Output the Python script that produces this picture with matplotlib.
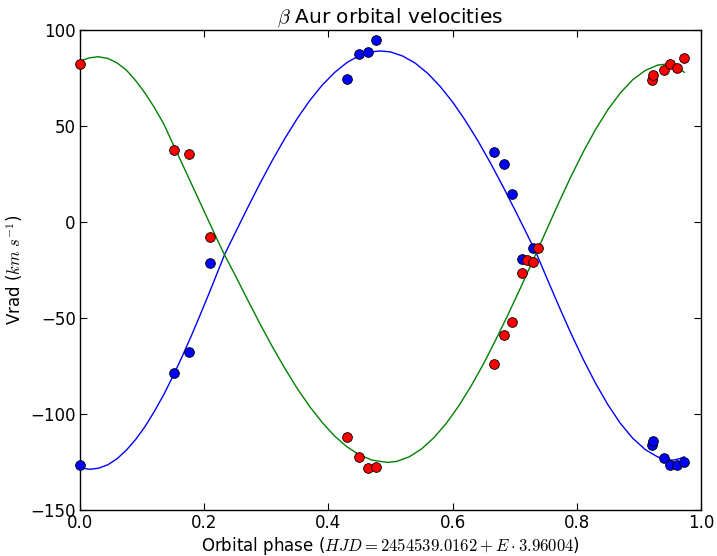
import matplotlib
matplotlib.use("Agg")
import matplotlib.pyplot as plt

# Observed radial velocities
phase_blue = [0.0, 0.152, 0.175, 0.210, 0.430, 0.449, 0.464, 0.476, 0.666, 0.683,
              0.696, 0.711, 0.729, 0.921, 0.923, 0.940, 0.950, 0.961, 0.973]
vel_blue = [-126.6, -78.5, -67.7, -21.2, 74.3, 87.3, 88.4, 94.8, 36.3, 30.4,
            14.4, -19.4, -13.4, -116.1, -113.9, -123.1, -126.6, -126.6, -125.2]

phase_red = [0.0, 0.152, 0.175, 0.210, 0.430, 0.449, 0.464, 0.476, 0.666, 0.683,
             0.696, 0.711, 0.719, 0.730, 0.738, 0.921, 0.923, 0.940, 0.950, 0.961, 0.973]
vel_red = [82.1, 37.5, 35.3, -8.0, -111.8, -122.2, -128.1, -127.8, -73.8, -58.9,
           -52.0, -26.4, -20.0, -21.0, -13.6, 74.2, 76.8, 79.4, 82.4, 80.2, 85.5]

# Fitted orbit curves
fit_phase_blue = [0.000, 0.016, 0.030, 0.045, 0.060, 0.075, 0.090, 0.105, 0.120, 0.135,
                  0.150, 0.165, 0.180, 0.195, 0.210, 0.220, 0.233, 0.250, 0.270, 0.290,
                  0.310, 0.330, 0.350, 0.370, 0.390, 0.410, 0.430, 0.450, 0.470, 0.484,
                  0.500, 0.520, 0.540, 0.560, 0.580, 0.600, 0.620, 0.640, 0.660, 0.680,
                  0.700, 0.720, 0.735, 0.750, 0.770, 0.790, 0.810, 0.830, 0.850, 0.870,
                  0.890, 0.910, 0.930, 0.945, 0.955, 0.965, 0.973]
fit_blue = [-128.0, -128.8, -128.2, -126.4, -123.2, -118.7, -113.1, -106.4, -98.5, -89.8,
            -80.1, -69.7, -58.7, -47.2, -35.4, -27.3, -16.8, -5.6, 7.5, 20.2,
            32.3, 43.6, 54.0, 63.3, 71.3, 77.9, 83.1, 86.7, 88.7, 89.1,
            88.6, 86.4, 82.7, 77.4, 70.6, 62.5, 53.1, 42.7, 31.3, 19.2,
            6.5, -6.5, -16.4, -27.9, -43.0, -57.6, -71.3, -83.9, -95.1, -104.8,
            -112.6, -118.5, -122.3, -123.8, -124.0, -123.3, -122.3]

fit_phase_green = [0.000, 0.015, 0.029, 0.045, 0.060, 0.075, 0.090, 0.105, 0.120, 0.135,
                   0.152, 0.165, 0.180, 0.195, 0.210, 0.220, 0.233, 0.250, 0.270, 0.290,
                   0.310, 0.330, 0.350, 0.370, 0.390, 0.410, 0.430, 0.450, 0.470, 0.495,
                   0.510, 0.530, 0.550, 0.570, 0.590, 0.610, 0.630, 0.650, 0.670, 0.690,
                   0.710, 0.720, 0.735, 0.750, 0.770, 0.790, 0.810, 0.830, 0.850, 0.870,
                   0.890, 0.910, 0.930, 0.945, 0.960, 0.973]
fit_green = [83.9, 85.5, 86.1, 85.2, 82.8, 79.0, 73.5, 67.0, 59.5, 51.0,
             39.0, 30.0, 19.5, 9.0, -1.5, -8.5, -17.3, -27.8, -40.6, -53.1,
             -65.1, -76.3, -86.8, -96.2, -104.4, -111.5, -117.1, -121.3, -124.0, -125.2,
             -124.7, -122.3, -118.2, -112.3, -104.8, -95.7, -85.3, -73.7, -61.0, -47.7,
             -33.8, -26.7, -16.0, -5.0, 9.4, 23.3, 36.3, 48.1, 58.5, 67.2,
             74.1, 78.9, 81.7, 82.3, 80.8, 78.0]

plt.rcParams['mathtext.fontset'] = 'cm'
plt.rcParams['font.family'] = 'DejaVu Sans'

fig = plt.figure(figsize=(7.17, 5.56), dpi=100, facecolor='white')
ax = fig.add_axes([0.1116, 0.0827, 0.8661, 0.8633])

ax.plot(fit_phase_blue, fit_blue, color='b', lw=1.0)
ax.plot(fit_phase_green, fit_green, color='g', lw=1.0)
ax.plot(phase_blue, vel_blue, 'o', color='b', markersize=7, markeredgecolor='k',
        markeredgewidth=0.6, clip_on=False, zorder=3)
ax.plot(phase_red, vel_red, 'o', color='r', markersize=7, markeredgecolor='k',
        markeredgewidth=0.6, clip_on=False, zorder=3)

ax.set_xlim(0.0, 1.0)
ax.set_ylim(-150, 100)
ax.set_xticks([0.0, 0.2, 0.4, 0.6, 0.8, 1.0])
ax.set_yticks([-150, -100, -50, 0, 50, 100])
ax.tick_params(direction='in', length=5, width=0.8, top=True, right=True,
               labelsize=12, pad=3)
for s in ax.spines.values():
    s.set_linewidth(1.0)

ax.set_title(r'$\beta$ Aur orbital velocities', fontsize=14.5, pad=5)
ax.set_xlabel(r'Orbital phase ($HJD = 2454539.0162 + E \cdot 3.96004$)', fontsize=12,
              labelpad=2)
ax.set_ylabel(r'Vrad ($km\ s^{-1}$)', fontsize=12)

fig.savefig('out.png', dpi=100, facecolor='white')
